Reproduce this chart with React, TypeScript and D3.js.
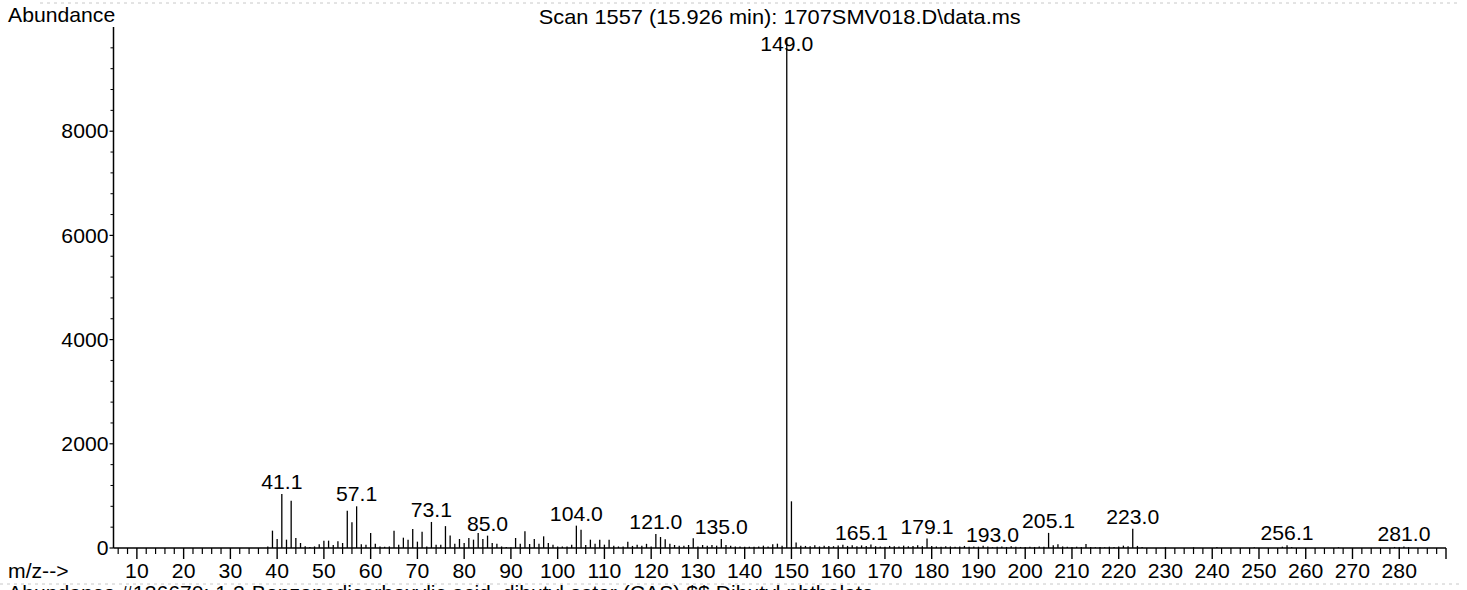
import React from 'react';
import * as d3 from 'd3';

const masses = [
  38, 39, 40, 41, 42, 43, 44, 45, 46, 47, 48, 49, 50, 51, 52, 53, 54, 55, 56, 57, 58, 59, 60,
  61, 62, 63, 64, 65, 66, 67, 68, 69, 70, 71, 72, 73, 74, 75, 76, 77, 78, 79, 80,
  81, 82, 83, 84, 85, 86, 87, 88, 89, 90, 91, 92, 93, 94, 95, 96, 97, 98, 99, 100,
  101, 102, 103, 104, 105, 106, 107, 108, 109, 110, 111, 112, 113, 114, 115, 116, 117, 118, 119, 120,
  121, 122, 123, 124, 125, 126, 127, 128, 129, 130, 131, 132, 133, 134, 135, 136, 137, 138, 139, 140,
  141, 142, 143, 144, 145, 146, 147, 148, 149, 150, 151, 152, 153, 154, 155, 156, 157, 158, 159, 160,
  161, 162, 163, 164, 165, 166, 167, 168, 169, 170, 171, 172, 173, 174, 175, 176, 177, 178, 179, 180,
  181, 182, 183, 184, 185, 186, 187, 188, 189, 190, 191, 192, 193, 194, 195, 196, 197, 198, 199, 200,
  201, 202, 203, 204, 205, 206, 207, 208, 209, 210, 211, 212, 213, 214, 215, 216, 217, 218, 219, 220,
  221, 222, 223, 224, 225, 230, 236, 241, 249, 255, 256, 257, 267, 279, 280, 281, 282,
];

const abundances = [
  30, 333, 173, 1037, 160, 909, 192, 96, 35, 20, 30, 70, 141, 141, 58, 128, 96, 717, 493, 800, 70, 64, 288,
  83, 30, 25, 30, 333, 64, 198, 160, 365, 122, 314, 30, 500, 64, 64, 420, 240, 80, 173, 96,
  192, 160, 288, 173, 237, 96, 83, 30, 20, 15, 192, 83, 320, 77, 173, 83, 224, 96, 64, 30,
  30, 30, 64, 429, 352, 58, 160, 83, 160, 64, 160, 45, 30, 30, 122, 40, 64, 45, 80, 30,
  269, 211, 166, 83, 58, 45, 45, 58, 186, 30, 58, 45, 58, 45, 173, 58, 45, 30, 30, 25,
  25, 25, 30, 45, 30, 70, 83, 45, 9780, 896, 105, 45, 40, 35, 55, 30, 45, 40, 35, 50,
  60, 40, 55, 35, 50, 40, 65, 35, 30, 25, 40, 35, 30, 45, 35, 40, 55, 35, 180, 40,
  30, 25, 35, 30, 25, 30, 40, 25, 30, 25, 45, 30, 15, 25, 30, 20, 35, 25, 20, 20,
  25, 20, 30, 25, 290, 55, 70, 30, 25, 20, 25, 20, 75, 20, 15, 20, 15, 25, 20, 30,
  45, 35, 370, 40, 20, 15, 15, 20, 15, 25, 55, 20, 15, 20, 15, 30, 15,
];

const labelTexts = ['41.1', '57.1', '73.1', '85.0', '104.0', '121.0', '135.0', '149.0', '165.1', '179.1', '193.0', '205.1', '223.0', '256.1', '281.0'];
const labelMasses = [41, 57, 73, 85, 104, 121, 135, 149, 165, 179, 193, 205, 223, 256, 281];

const yTickValues = [0, 2000, 4000, 6000, 8000];
const xTickLabels = [10, 20, 30, 40, 50, 60, 70, 80, 90, 100, 110, 120, 130, 140, 150, 160, 170, 180, 190, 200, 210, 220, 230, 240, 250, 260, 270, 280];

const titleText = 'Scan 1557 (15.926 min): 1707SMV018.D\\data.ms';
const yAxisTitle = 'Abundance';
const xAxisTitle = 'm/z-->';
const footerText = 'Abundance #136670: 1,2-Benzenedicarboxylic acid, dibutyl ester (CAS) $$ Dibutyl phthalate';

const FONT = "'Liberation Sans', Arial, Helvetica, sans-serif";
const FS = 20;

function T(props: { x: number; y: number; anchor?: string; sx?: number; dy?: string; children: React.ReactNode }) {
  const { x, y, anchor = 'start', sx = 1.06, dy, children } = props;
  return (
    <text
      transform={`translate(${x},${y}) scale(${sx},1)`}
      textAnchor={anchor}
      dy={dy}
      fontFamily={FONT}
      fontSize={FS}
      fill="#000"
    >
      {children}
    </text>
  );
}

export default function App() {
  const W = 1467;
  const H = 600;
  const x = d3.scaleLinear().domain([5, 290]).range([113.5, 1446]);
  const y = d3.scaleLinear().domain([0, 10000]).range([548, 27]);
  const x0 = x(5);
  const y0 = y(0);

  const majorX = d3.range(10, 291, 10);
  const minorX = d3.range(6, 290, 2).filter((v) => v % 10 !== 0);
  const minorY = d3.range(400, 10000, 400).filter((v) => v % 2000 !== 0);

  const valueOf = (m: number) => {
    const i = masses.indexOf(m);
    return i >= 0 ? abundances[i] : 0;
  };

  return (
    <div style={{ position: 'absolute', left: 0, top: 0 }}>
      <svg width={W} height={H} style={{ display: 'block', background: '#fff' }}>
        <rect x={0} y={0} width={W} height={H} fill="#fff" />
        {/* faint scan artifacts */}
        <line x1={40} x2={1460} y1={3} y2={3} stroke="#c8c8c8" strokeDasharray="3,4" strokeWidth={1} />
        <line x1={0} x2={1460} y1={584} y2={584} stroke="#c8c8c8" strokeDasharray="3,4" strokeWidth={1} />

        {/* titles */}
        <T x={8} y={22}>{yAxisTitle}</T>
        <T x={(x0 + x(290)) / 2} y={24} anchor="middle" sx={1.09}>{titleText}</T>

        {/* y axis */}
        <line x1={x0} x2={x0} y1={y(10000)} y2={y0} stroke="#000" strokeWidth={1.5} />
        {minorY.map((v) => (
          <line key={'my' + v} x1={x0 - 3} x2={x0} y1={y(v)} y2={y(v)} stroke="#000" strokeWidth={1} />
        ))}
        {yTickValues.map((v) => (
          <g key={'y' + v}>
            <line x1={x0 - 4} x2={x0} y1={y(v)} y2={y(v)} stroke="#000" strokeWidth={1.2} />
            <T x={x0 - 5} y={y(v)} dy="0.36em" anchor="end">{v}</T>
          </g>
        ))}

        {/* x axis */}
        <line x1={x0} x2={x(290)} y1={y0} y2={y0} stroke="#000" strokeWidth={1.5} />
        {minorX.map((v) => (
          <line key={'mx' + v} x1={x(v)} x2={x(v)} y1={y0} y2={y0 + 6} stroke="#000" strokeWidth={1.2} />
        ))}
        {majorX.map((v) => (
          <line key={'Mx' + v} x1={x(v)} x2={x(v)} y1={y0} y2={y0 + 11} stroke="#000" strokeWidth={1.4} />
        ))}
        {xTickLabels.map((v) => (
          <T key={'xl' + v} x={x(v)} y={578} anchor="middle">{v}</T>
        ))}
        <T x={8} y={578}>{xAxisTitle}</T>

        {/* spectrum lines */}
        {masses.map((m, i) => (
          <line key={'p' + m} x1={x(m)} x2={x(m)} y1={y0} y2={y(abundances[i])} stroke="#000" strokeWidth={1.3} />
        ))}

        {/* peak labels */}
        {labelMasses.map((m, i) => {
          const top = y(valueOf(m));
          const base = Math.max(top - 5, 51);
          return (
            <T key={'lab' + m} x={x(m)} y={base} anchor="middle">{labelTexts[i]}</T>
          );
        })}

        {/* footer (cut off at page bottom, as in the scan) */}
        <T x={8} y={600}>{footerText}</T>
      </svg>
    </div>
  );
}
